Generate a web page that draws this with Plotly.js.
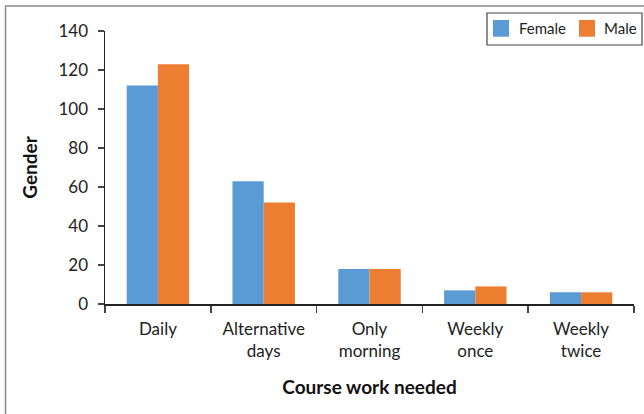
<!DOCTYPE html>
<html><head><meta charset="utf-8">
<script src="https://cdn.plot.ly/plotly-3.0.1.min.js"></script>
<style>html,body{margin:0;padding:0;background:#fff;}#chart{width:644px;height:414px;}</style>
</head><body><div id="chart"></div>
<script>
const categories = ["Daily", "Alternative<br>days", "Only<br>morning", "Weekly<br>once", "Weekly<br>twice"];
const seriesNames = ["Female", "Male"];
const female = [112, 63, 18, 7, 6];
const male = [123, 52, 18, 9, 6];
const yTicks = [0, 20, 40, 60, 80, 100, 120, 140];

const colors = ['#5B9BD5', '#ED7D31'];
const font = "Lato, 'Open Sans', sans-serif";
const data = [
  {type: 'bar', name: seriesNames[0], x: categories, y: female, marker: {color: colors[0]}},
  {type: 'bar', name: seriesNames[1], x: categories, y: male, marker: {color: colors[1]}}
];

// custom legend (box, swatches, labels) in paper coordinates
const legSw = [[0.7335, 0.7637], [0.8960, 0.9263]];
const legTx = [0.7788, 0.9395];
const shapes = [
  {type: 'rect', xref: 'paper', yref: 'paper', x0: -0.188, x1: 1.05, y0: -0.5, y1: 1.092,
   line: {color: '#8a8a8a', width: 1.5}, fillcolor: 'rgba(0,0,0,0)', layer: 'below'},
  {type: 'rect', xref: 'paper', yref: 'paper', x0: 0.7221, x1: 1.0151, y0: 0.9487, y1: 1.0659,
   line: {color: '#444', width: 1.2}, fillcolor: '#fff'}
];
const annotations = [];
seriesNames.forEach((n, i) => {
  shapes.push({type: 'rect', xref: 'paper', yref: 'paper', x0: legSw[i][0], x1: legSw[i][1],
    y0: 0.9791, y1: 1.0403, line: {width: 0}, fillcolor: colors[i]});
  annotations.push({xref: 'paper', yref: 'paper', x: legTx[i], y: 1.0092, xanchor: 'left', yanchor: 'middle',
    text: n, showarrow: false, font: {size: 15, family: font, color: '#222'}});
});

const layout = {
  width: 644, height: 414,
  margin: {l: 105, r: 10, t: 31, b: 110, autoexpand: false},
  paper_bgcolor: '#fff', plot_bgcolor: '#fff',
  font: {family: font, size: 17, color: '#222'},
  barmode: 'group', bargap: 0.41, bargroupgap: 0,
  showlegend: false,
  xaxis: {
    type: 'category', showline: true, linecolor: '#222', linewidth: 1.5,
    ticks: 'outside', tickson: 'boundaries', ticklen: 7, tickcolor: '#444', tickwidth: 1.5,
    showgrid: false, zeroline: false, tickfont: {size: 17, family: font, color: '#222'},
    ticklabelstandoff: 9,
    title: {text: '<b>Course work needed</b>', font: {size: 19, family: font, color: '#111'}, standoff: 20}
  },
  yaxis: {
    range: [0, 140], tickvals: yTicks, showline: true, linecolor: '#222', linewidth: 1.5,
    ticks: 'outside', ticklen: 6, tickcolor: '#444', tickwidth: 1.5,
    showgrid: false, zeroline: false, tickfont: {size: 17, family: font, color: '#222'},
    ticklabelstandoff: 6,
    title: {text: '<b>Gender</b>', font: {size: 19, family: font, color: '#111'}, standoff: 16}
  },
  shapes: shapes,
  annotations: annotations
};
Plotly.newPlot('chart', data, layout, {displayModeBar: false, staticPlot: true});
</script></body></html>
